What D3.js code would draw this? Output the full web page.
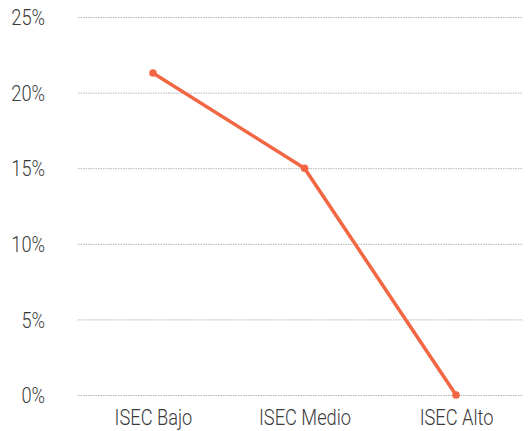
<!DOCTYPE html>
<html><head><meta charset="utf-8">
<script src="https://cdn.jsdelivr.net/npm/d3@7"></script>
<style>
body{margin:0;background:#fff;}
text{font-family:"Roboto",sans-serif;font-weight:300;}
</style></head>
<body><svg id="c" width="530" height="431"></svg>
<script>
const categories = ["ISEC Bajo","ISEC Medio","ISEC Alto"];
const values = [21.3, 15.0, 0.0];
const yTicks = [0,5,10,15,20,25];

const svg = d3.select("#c");
const gLeft = 78, gRight = 523, mTop = 17, mBottom = 395;
const sx = 0.83;
const fs = 22;
const x = d3.scalePoint().domain(categories).range([86, 523]).padding(0.442);
const y = d3.scaleLinear().domain([0,25]).range([mBottom, mTop]);

const yAxis = svg.append("g").attr("transform", `translate(${gLeft},0)`)
  .call(d3.axisLeft(y).tickValues(yTicks).tickFormat(d => d + "%").tickSize(-(gRight-gLeft)).tickPadding(33));
yAxis.select(".domain").remove();
yAxis.selectAll(".tick line").attr("stroke","#b5b5b5").attr("stroke-width",1).attr("stroke-dasharray","1.5,1");
yAxis.selectAll(".tick text").attr("font-size",fs).style("fill","#3a3a3a")
  .attr("x", -33/sx).attr("dy","0.35em").attr("transform", `scale(${sx},1)`);

const xAxis = svg.append("g").attr("transform", `translate(0,${mBottom})`)
  .call(d3.axisBottom(x).tickSize(0).tickPadding(14));
xAxis.select(".domain").remove();
xAxis.selectAll(".tick text").attr("font-size",fs).style("fill","#3a3a3a")
  .attr("transform", `scale(${sx},1)`);

const line = d3.line().x((d,i)=>x(categories[i])).y(d=>y(d));
svg.append("path").datum(values).attr("d", line).attr("fill","none")
  .attr("stroke","#f26644").attr("stroke-width",3.5).attr("stroke-linejoin","round");
svg.selectAll("circle.p").data(values).enter().append("circle").attr("class","p")
  .attr("cx",(d,i)=>x(categories[i])).attr("cy",d=>y(d)).attr("r",3.8).attr("fill","#f26644");
</script></body></html>
